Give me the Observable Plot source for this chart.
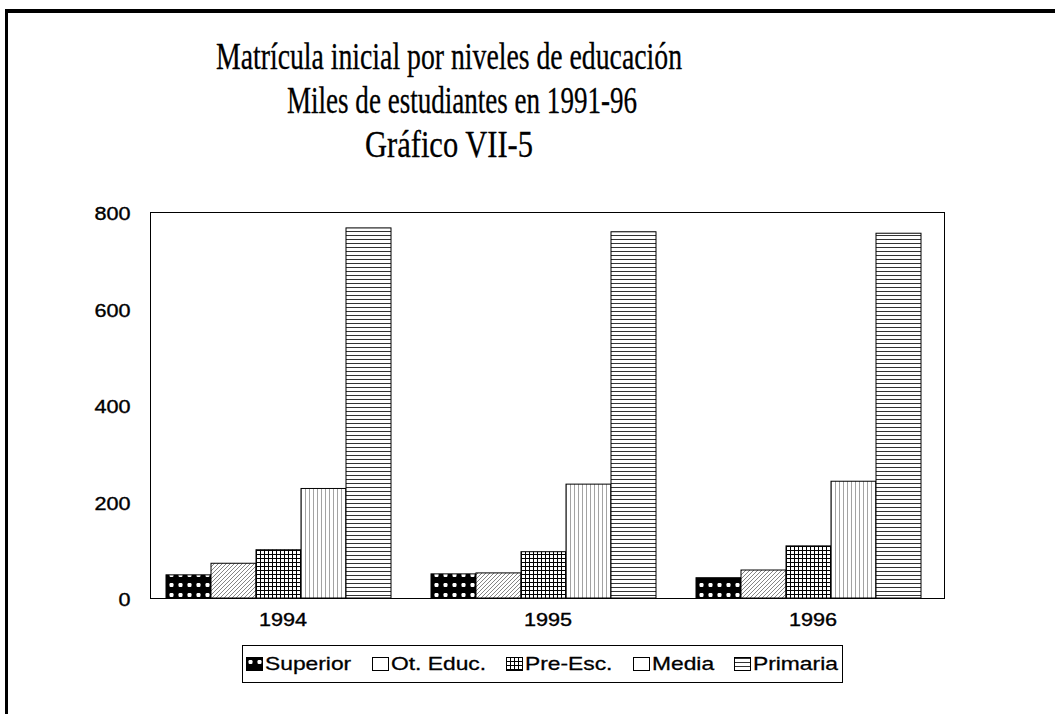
<!DOCTYPE html>
<html><head><meta charset="utf-8">
<script src="https://cdn.jsdelivr.net/npm/d3@7"></script>
<script src="https://cdn.jsdelivr.net/npm/@observablehq/plot@0.6"></script>
<style>
body{margin:0;background:#fff;}
#page{position:relative;width:1055px;height:714px;overflow:hidden;background:#fff;}
#outer{position:absolute;left:5px;top:9px;width:1060px;height:720px;border-top:4px solid #000;border-left:3px solid #000;}
#title{position:absolute;left:0;top:0;}
#chart{position:absolute;left:0;top:190px;}
#chart text{stroke:#000;stroke-width:0.35px;}
#plotframe{position:absolute;left:150px;top:212px;width:795px;height:387px;border:1px solid #000;box-sizing:border-box;pointer-events:none;}
#legend{position:absolute;left:242px;top:645px;width:601px;height:38px;border:1px solid #000;box-sizing:border-box;
  display:flex;align-items:center;justify-content:space-between;padding:0 4px 0 3px;
  font-family:"Liberation Sans",Arial,sans-serif;font-size:19px;color:#000;-webkit-text-stroke:0.3px #000;}
#legend .item{display:flex;align-items:center;}
#legend svg{margin-right:2px;}
#legend span{display:inline-block;white-space:nowrap;transform-origin:0 50%;}
</style></head><body>
<div id="page">
<svg width="0" height="0" style="position:absolute">
  <defs>
    <pattern id="p-sup" width="9" height="10" patternUnits="userSpaceOnUse">
      <rect width="9" height="10" fill="#000"/>
      <rect x="2.5" y="3" width="4" height="4" rx="1.2" fill="#fff"/>
    </pattern>
    <pattern id="p-ot" width="4" height="4" patternUnits="userSpaceOnUse">
      <rect width="4" height="4" fill="#fff"/>
      <path d="M-1,1 l2,-2 M0,4 l4,-4 M3,5 l2,-2" stroke="#777" stroke-width="0.9"/>
    </pattern>
    <pattern id="p-pre" width="4" height="4" patternUnits="userSpaceOnUse">
      <rect width="4" height="4" fill="#fff"/>
      <path d="M0,0.5 H4 M0.5,0 V4" stroke="#000" stroke-width="1"/>
    </pattern>
    <pattern id="p-med" width="4" height="4" patternUnits="userSpaceOnUse">
      <rect width="4" height="4" fill="#fff"/>
      <path d="M1.5,0 V4" stroke="#999" stroke-width="0.9"/>
    </pattern>
    <pattern id="p-pri" width="4" height="4" patternUnits="userSpaceOnUse">
      <rect width="4" height="4" fill="#fff"/>
      <path d="M0,1.5 H4" stroke="#333" stroke-width="1"/>
    </pattern>
  </defs>
</svg>
<div id="outer"></div>
<svg id="title" width="1055" height="190" font-family="'Liberation Serif','Times New Roman',serif" font-size="38" fill="#000" stroke="#000" stroke-width="0.3">
  <text id="t1" x="216" y="69" textLength="466" lengthAdjust="spacingAndGlyphs"></text>
  <text id="t2" x="287" y="113" textLength="350" lengthAdjust="spacingAndGlyphs"></text>
  <text id="t3" x="365" y="157" textLength="168" lengthAdjust="spacingAndGlyphs"></text>
</svg>
<div id="chart"></div>
<div id="plotframe"></div>
<div id="legend"></div>
</div>
<script>
const titleLines = ["Matrícula inicial por niveles de educación", "Miles de estudiantes en 1991-96", "Gráfico VII-5"];
const years = ["1994", "1995", "1996"];
const categories = ["Superior", "Ot. Educ.", "Pre-Esc.", "Media", "Primaria"];
const superior = [48, 50, 42];
const otEduc = [72, 52, 58];
const preEsc = [100, 96, 108];
const media = [227, 236, 242];
const primaria = [767, 759, 756];
const yTicks = [0, 200, 400, 600, 800];
const patterns = ["p-sup", "p-ot", "p-pre", "p-med", "p-pri"];
const legendPatterns = ["p-sup", null, "p-pre", null, "p-pri"];

document.getElementById("t1").textContent = titleLines[0];
document.getElementById("t2").textContent = titleLines[1];
document.getElementById("t3").textContent = titleLines[2];

const series = [superior, otEduc, preEsc, media, primaria];
const data = [];
years.forEach((yr, i) => categories.forEach((c, j) => data.push({year: yr, cat: c, value: series[j][i]})));

const chart = Plot.plot({
  width: 1055, height: 450,
  marginLeft: 150, marginRight: 110, marginTop: 22, marginBottom: 42,
  style: {fontFamily: "'Liberation Sans', Arial, sans-serif", fontSize: "18px", color: "#000", background: "transparent"},
  fx: {domain: years, padding: 0, label: null},
  x: {domain: categories, paddingInner: 0, paddingOuter: 0.393, axis: null},
  y: {domain: [0, 800], label: null},
  marks: [
    Plot.axisY(yTicks, {fontSize: 18, tickSize: 0, tickPadding: 20, label: null, dy: 2}),
    Plot.axisFx({fontSize: 18, tickSize: 0, tickPadding: 15, label: null, anchor: "bottom"}),
    ...categories.map((c, j) => Plot.barY(data, {
      filter: d => d.cat === c, fx: "year", x: "cat", y: "value",
      fill: `url(#${patterns[j]})`, stroke: "#000", strokeWidth: 1, dx: -4
    }))
  ]
});
document.getElementById("chart").appendChild(chart);
// the scanned labels are drawn about 1.2x wider than the font's natural width
chart.querySelectorAll("text").forEach(t => {
  const w = t.getComputedTextLength();
  if (w > 0) {
    t.setAttribute("textLength", (w * 1.2).toFixed(1));
    t.setAttribute("lengthAdjust", "spacingAndGlyphs");
  }
});

const legend = document.getElementById("legend");
categories.forEach((c, j) => {
  const item = document.createElement("div");
  item.className = "item";
  const fill = legendPatterns[j] ? `url(#${legendPatterns[j]})` : "#fff";
  item.innerHTML = `<svg width="17" height="14"><rect x="0.5" y="0.5" width="16" height="13" fill="${fill}" stroke="#000"/></svg><span></span>`;
  item.querySelector("span").textContent = c;
  legend.appendChild(item);
});
legend.querySelectorAll("span").forEach(s => {
  const w = s.getBoundingClientRect().width;
  s.style.width = (w * 1.2).toFixed(1) + "px";
  s.style.transform = "scaleX(1.2)";
});
</script>
</body></html>
